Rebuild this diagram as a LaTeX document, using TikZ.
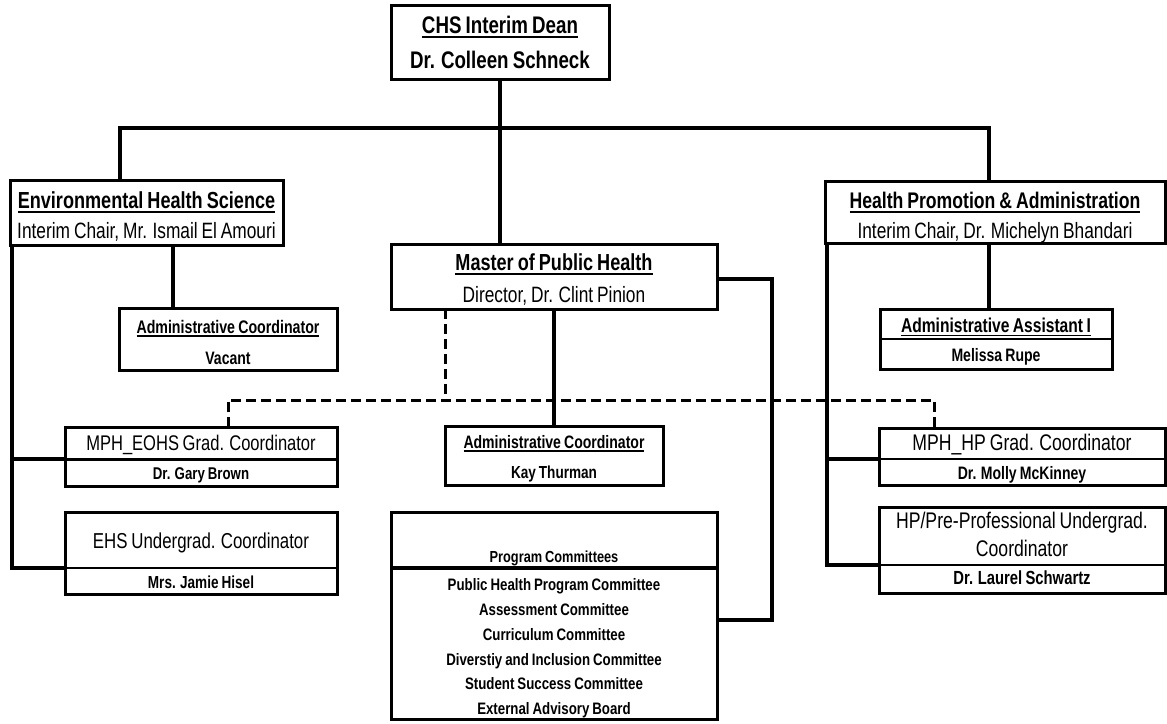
\documentclass[tikz,border=0pt]{standalone}
\usepackage{fontspec}
\setmainfont[FakeStretch=0.78,WordSpace=0.8]{Liberation Sans}
\newfontfamily\pcfont[FakeStretch=0.8,WordSpace=0.8]{Liberation Sans}
\usetikzlibrary{backgrounds}
\newcommand{\fsz}[1]{\fontsize{#1}{#1}\selectfont}
\newcommand{\ulx}[1]{\setbox0=\hbox{#1}\rlap{\rule[-0.2em]{\wd0}{0.07em}}\box0}
\tikzset{
  box/.style={draw=black, line width=3pt, fill=white, inner sep=0pt, outer sep=0pt},
  conn/.style={draw=black, line width=3.5pt, line join=miter},
  dline/.style={draw=black, line width=3pt, dash pattern=on 10pt off 5pt},
  div/.style={draw=black, line width=1.3pt},
  tx/.style={anchor=base, inner sep=0pt, outer sep=0pt, text=black},
}
\begin{document}
\begin{tikzpicture}[x=1pt,y=-1pt]
\useasboundingbox (0,0) rectangle (1167,723);
% boxes
\node[box, minimum width=218, minimum height=74] (dean) at (500,42) {};
\node[box, minimum width=273, minimum height=65] (ehs) at (146.5,212.5) {};
\node[box, minimum width=218, minimum height=62] (vac) at (228,339) {};
\node[box, minimum width=326, minimum height=65] (mph) at (554,276.5) {};
\node[box, minimum width=340, minimum height=62] (hpa) at (995,212) {};
\node[box, minimum width=232, minimum height=60] (asst) at (996,339) {};
\node[box, minimum width=272, minimum height=59] (eohs) at (201,456.5) {};
\node[box, minimum width=272, minimum height=82] (ehsu) at (201,553) {};
\node[box, minimum width=218, minimum height=59] (kay) at (554,455.5) {};
\node[box, minimum width=286, minimum height=57] (mphhp) at (1022,456.5) {};
\node[box, minimum width=286, minimum height=86] (hppre) at (1022,550) {};
\node[box, minimum width=326, minimum height=207] (prog) at (554,615.5) {};
% coordinates
\coordinate (hl) at (120,128);
\coordinate (hm) at (500,128);
\coordinate (hr) at (989,128);
\coordinate (ev) at (173,0);
\coordinate (ls) at (12,0);
\coordinate (rs) at (827,0);
\coordinate (eohsD) at (65,459);
\coordinate (ehsuD) at (65,568);
\coordinate (hpD) at (879,459);
\coordinate (preD) at (879,565);
\coordinate (asstD) at (880,339);
\coordinate (progD) at (391,568);
\coordinate (mr) at (772,279);
\coordinate (pr) at (717,620);
\coordinate (dm) at (445,400);
\coordinate (dl) at (228,400);
\coordinate (dr) at (934,400);
\begin{pgfonlayer}{background}
\fill[white] (0,0) rectangle (1167,723);
\draw[conn] (dean.south) -- (hm);
\draw[conn] (hl |- ehs.north) -- (hl) -- (hr) -- (hr |- hpa.north);
\draw[conn] (hm) -- (hm |- mph.north);
\draw[conn] (ev |- ehs.south) -- (ev |- vac.north);
\draw[conn] (hr |- hpa.south) -- (hr |- asst.north);
\draw[conn] (ls |- ehs.south) -- (ls |- ehsuD) -- (ehsuD);
\draw[conn] (ls |- eohsD) -- (eohsD);
\draw[conn] (rs |- hpa.south) -- (rs |- preD) -- (preD);
\draw[conn] (rs |- hpD) -- (hpD);
\draw[conn] (mph.east |- mr) -- (mr) -- (pr -| mr) -- (pr);
\draw[conn] (mph.south) -- (kay.north);
\draw[dline] (dm |- mph.south) -- (dm);
\draw[dline] (dl |- eohs.north) -- (dl) -- (dr) -- (dr |- mphhp.north);
\end{pgfonlayer}
% dividers
\draw[div, line width=3pt] (eohsD) -- (eohsD -| eohs.east);
\draw[div] (ehsuD) -- (ehsuD -| ehsu.east);
\draw[div] (asstD) -- (asstD -| asst.east);
\draw[div] (hpD) -- (hpD -| mphhp.east);
\draw[div] (preD) -- (preD -| hppre.east);
\draw[div, line width=4pt] (progD) -- (progD -| prog.east);
% texts
\node[tx, font=\fsz{24}\bfseries] (deanA) at (500,33) {\ulx{CHS Interim Dean}};
\node[tx, font=\fsz{24}\bfseries] (deanB) at (500,68) {Dr. Colleen Schneck};
\node[tx, font=\fsz{23.2}\bfseries] (ehsA) at (146.5,208) {\ulx{Environmental Health Science}};
\node[tx, font=\fsz{22.2}] (ehsB) at (146.5,238) {Interim Chair, Mr. Ismail El Amouri};
\node[tx, font=\fsz{18.2}\bfseries] (vacA) at (228,333) {\ulx{Administrative Coordinator}};
\node[tx, font=\fsz{18}\bfseries] (vacB) at (228,364) {Vacant};
\node[tx, font=\fsz{23.2}\bfseries] (mphA) at (554,270) {\ulx{Master of Public Health}};
\node[tx, font=\fsz{22.2}] (mphB) at (554,302) {Director, Dr. Clint Pinion};
\node[tx, font=\fsz{22.6}\bfseries] (hpaA) at (995,208) {\ulx{Health Promotion \& Administration}};
\node[tx, font=\fsz{22.2}] (hpaB) at (995,238) {Interim Chair, Dr. Michelyn Bhandari};
\node[tx, font=\fsz{20}\bfseries] (asstA) at (996,332) {\ulx{Administrative Assistant I}};
\node[tx, font=\fsz{18}\bfseries] (asstB) at (996,361) {Melissa Rupe};
\node[tx, font=\fsz{21.2}] (eohsA) at (201,450) {MPH\_EOHS Grad. Coordinator};
\node[tx, font=\fsz{17}\bfseries] (eohsB) at (201,479) {Dr. Gary Brown};
\node[tx, font=\fsz{21.6}] (ehsuA) at (201,548) {EHS Undergrad. Coordinator};
\node[tx, font=\fsz{17.4}\bfseries] (ehsuB) at (201,588) {Mrs. Jamie Hisel};
\node[tx, font=\fsz{18}\bfseries] (kayA) at (554,448) {\ulx{Administrative Coordinator}};
\node[tx, font=\fsz{17.4}\bfseries] (kayB) at (554,478) {Kay Thurman};
\node[tx, font=\fsz{22.6}] (mphhpA) at (1022,450) {MPH\_HP Grad. Coordinator};
\node[tx, font=\fsz{18}\bfseries] (mphhpB) at (1022,479) {Dr. Molly McKinney};
\node[tx, font=\fsz{22.6}] (hppreA) at (1022,528) {HP/Pre-Professional Undergrad.};
\node[tx, font=\fsz{22.6}] (hppreB) at (1022,556) {Coordinator};
\node[tx, font=\fsz{19}\bfseries] (hppreC) at (1022,584) {Dr. Laurel Schwartz};
\node[tx, font=\pcfont\fsz{16}\bfseries] (progA) at (554,562) {Program Committees};
\node[tx, font=\pcfont\fsz{16.6}\bfseries] (progB) at (554,590) {Public Health Program Committee};
\node[tx, font=\pcfont\fsz{16.6}\bfseries] (progC) at (554,615) {Assessment Committee};
\node[tx, font=\pcfont\fsz{16.6}\bfseries] (progE) at (554,640) {Curriculum Committee};
\node[tx, font=\pcfont\fsz{16.6}\bfseries] (progF) at (554,665) {Diverstiy and Inclusion Committee};
\node[tx, font=\pcfont\fsz{16.6}\bfseries] (progG) at (554,689) {Student Success Committee};
\node[tx, font=\pcfont\fsz{16.6}\bfseries] (progH) at (554,714) {External Advisory Board};
\end{tikzpicture}
\end{document}
